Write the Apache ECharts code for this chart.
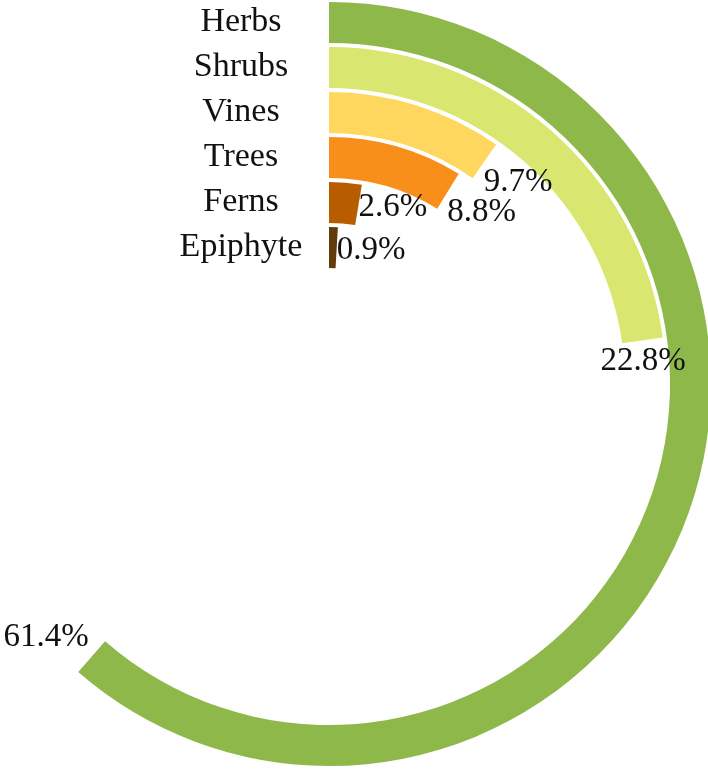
<!DOCTYPE html>
<html>
<head>
<meta charset="utf-8">
<script src="https://cdn.jsdelivr.net/npm/echarts@6/dist/echarts.min.js"></script>
<style>html,body{margin:0;padding:0;background:#fff}#c{width:708px;height:769px}</style>
</head>
<body>
<div id="c"></div>
<script>
const categories = ['Herbs', 'Shrubs', 'Vines', 'Trees', 'Ferns', 'Epiphyte'];
const values = [61.4, 22.8, 9.7, 8.8, 2.6, 0.9];
const colors = ['#8eb94a', '#d9e66f', '#ffd75e', '#f98f1b', '#b85c00', '#633c0c'];

const chart = echarts.init(document.getElementById('c'));
const font = '"Liberation Serif", "Times New Roman", serif';

// label placed along the clockwise tangent at the end of each arc
function labelFor(v) {
  const a = v / 100 * 2 * Math.PI;
  const dx = Math.cos(a), dy = Math.sin(a);
  const align = dx > 0.3 ? 'left' : (dx < -0.3 ? 'right' : 'center');
  return {
    align: align,
    verticalAlign: dy > 0.3 ? 'top' : (dy < -0.3 ? 'bottom' : 'middle'),
    offset: align === 'left' ? [-4, 2] : [0, 0]
  };
}

chart.setOption({
  animation: false,
  polar: { center: [329, 384], radius: [114, 384] },
  angleAxis: {
    type: 'value', min: 0, max: 100, startAngle: 90, clockwise: true,
    show: false
  },
  radiusAxis: {
    type: 'category', data: categories, inverse: true,
    axisLine: { show: false }, axisTick: { show: false }, splitLine: { show: false },
    axisLabel: {
      interval: 0,
      fontFamily: font, fontSize: 34, color: '#111',
      align: 'center', margin: 88
    }
  },
  series: [{
    type: 'bar', coordinateSystem: 'polar',
    barCategoryGap: '9%',
    data: values.map((v, i) => ({
      value: v,
      itemStyle: { color: colors[i] },
      label: labelFor(v)
    })),
    label: {
      show: true, position: 'end', rotate: 0, distance: 4,
      formatter: p => p.value.toFixed(1) + '%',
      fontFamily: font, fontSize: 33, color: '#111'
    }
  }]
});
</script>
</body>
</html>
